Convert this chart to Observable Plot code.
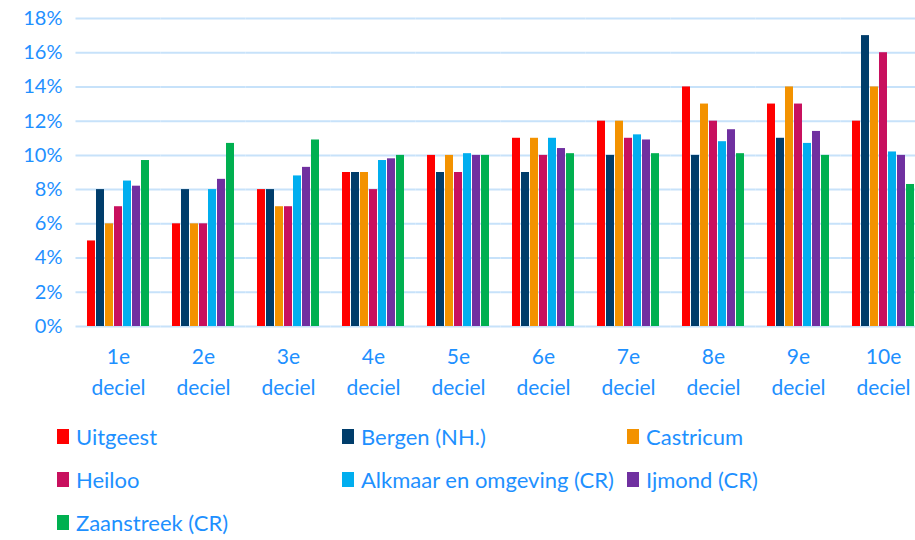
<!DOCTYPE html>
<html>
<head>
<meta charset="utf-8">
<script src="https://cdn.jsdelivr.net/npm/d3@7"></script>
<script src="https://cdn.jsdelivr.net/npm/@observablehq/plot@0.6"></script>
<style>
  body { margin: 0; background: #fff; font-family: Lato, "Open Sans", sans-serif; }
  #chart svg { display: block; }
  #legend { display: grid; grid-template-columns: 285px 285px 285px; padding-left: 57px; padding-top: 5px; }
  .item { height: 43px; display: flex; align-items: center; font-size: 22px; line-height: 26px; color: #1E90FF; white-space: nowrap; }
  .sw { width: 12px; height: 15px; margin-right: 7px; flex: none; }
</style>
</head>
<body>
<div id="chart"></div>
<div id="legend"></div>
<script>
const deciles = ["1e deciel","2e deciel","3e deciel","4e deciel","5e deciel","6e deciel","7e deciel","8e deciel","9e deciel","10e deciel"];
const series = ["Uitgeest","Bergen (NH.)","Castricum","Heiloo","Alkmaar en omgeving (CR)","Ijmond (CR)","Zaanstreek (CR)"];
const colors = ["#FF0000","#003D6B","#F39200","#C8105E","#00AEEF","#7030A0","#00B050"];
const uitgeest   = [5, 6, 8, 9, 10, 11, 12, 14, 13, 12];
const bergen     = [8, 8, 8, 9, 9, 9, 10, 10, 11, 17];
const castricum  = [6, 6, 7, 9, 10, 11, 12, 13, 14, 14];
const heiloo     = [7, 6, 7, 8, 9, 10, 11, 12, 13, 16];
const alkmaar    = [8.5, 8.0, 8.8, 9.7, 10.1, 11.0, 11.2, 10.8, 10.7, 10.2];
const ijmond     = [8.2, 8.6, 9.3, 9.8, 10.0, 10.4, 10.9, 11.5, 11.4, 10.0];
const zaanstreek = [9.7, 10.7, 10.9, 10.0, 10.0, 10.1, 10.1, 10.1, 10.0, 8.3];
const yTicks = [0, 2, 4, 6, 8, 10, 12, 14, 16, 18];

const valuesBySeries = [uitgeest, bergen, castricum, heiloo, alkmaar, ijmond, zaanstreek];
const data = [];
deciles.forEach((d, i) => series.forEach((s, j) => data.push({decile: d, series: s, value: valuesBySeries[j][i]})));

const textColor = "#1E90FF";
const chart = Plot.plot({
  width: 915,
  height: 410,
  marginTop: 18,
  marginBottom: 84,
  marginLeft: 76,
  marginRight: 0,
  style: { fontFamily: "Lato, 'Open Sans', sans-serif", color: textColor, background: "#fff" },
  fx: { domain: deciles, range: [76, 925], paddingInner: 0.2, paddingOuter: 0.094, label: null },
  x: { domain: series, paddingInner: 0.15, paddingOuter: 0, axis: null },
  y: { domain: [0, 18], label: null, axis: null },
  color: { domain: series, range: colors },
  marks: [
    Plot.ruleY(yTicks, { stroke: "#C7E2FA", strokeWidth: 2, insetLeft: -8.5, insetRight: -8.5 }),
    Plot.barY(data, { fx: "decile", x: "series", y: "value", fill: "series" }),
    Plot.axisY(yTicks, { facet: "exclude", facetAnchor: "left", tickSize: 0, tickPadding: 22, fontSize: 20, tickFormat: d => d + "%", fill: textColor, label: null }),
    Plot.axisFx({ anchor: "bottom", tickSize: 0, tickPadding: 16, fontSize: 21, lineHeight: 1.45, tickFormat: d => d.replace(" ", "\n"), fill: textColor, label: null })
  ]
});
document.getElementById("chart").appendChild(chart);

const legend = document.getElementById("legend");
series.forEach((s, j) => {
  const it = document.createElement("div");
  it.className = "item";
  it.innerHTML = `<span class="sw" style="background:${colors[j]}"></span><span>${s}</span>`;
  legend.appendChild(it);
});
</script>
</body>
</html>
